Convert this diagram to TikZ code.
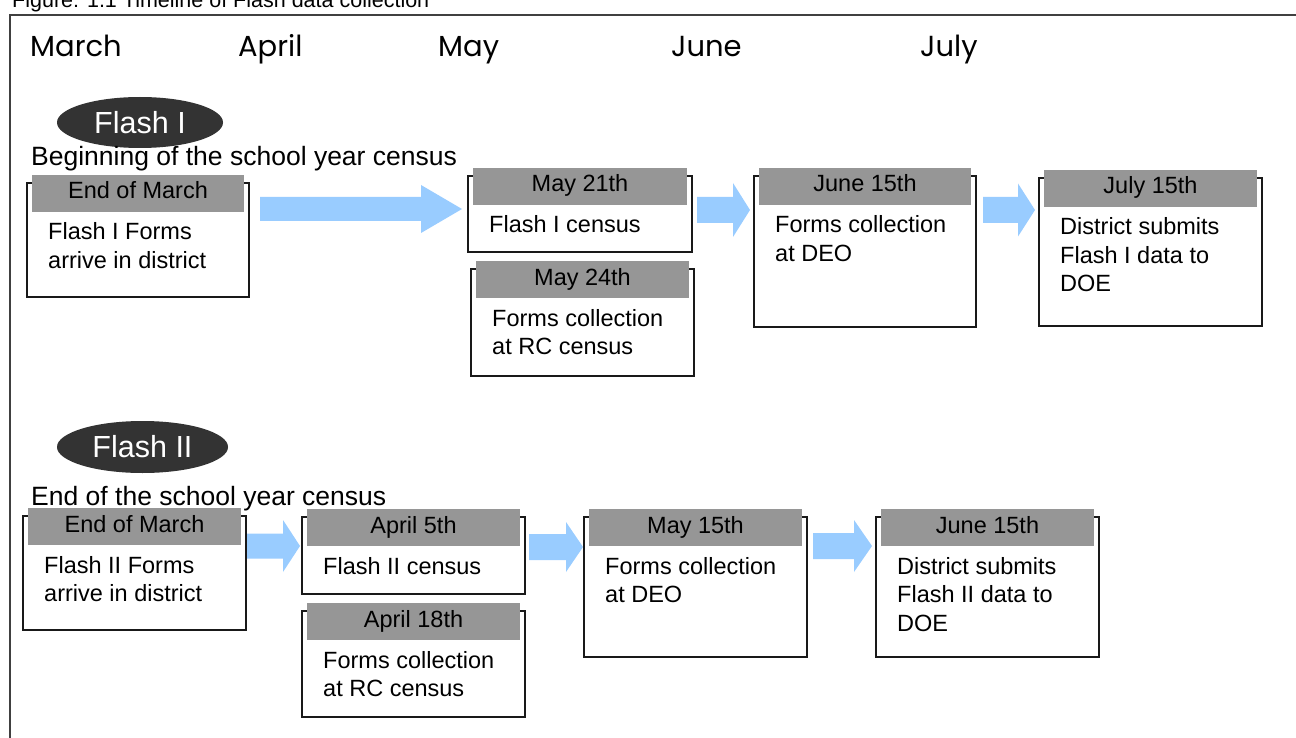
\documentclass[tikz,border=0pt]{standalone}
\usepackage{fontspec}
\setmainfont{Liberation Sans}
\newfontfamily\monthfont{Poppins}
\usetikzlibrary{shapes.geometric,calc}
\definecolor{hdrgray}{HTML}{969696}
\definecolor{ellgray}{HTML}{333333}
\definecolor{arrblue}{HTML}{99CCFF}
\definecolor{framegray}{HTML}{404040}
\tikzset{
  stagebox/.style={draw=black!90, line width=1.2pt, fill=white, inner sep=0pt, outer sep=0pt},
  stagehdr/.style={fill=hdrgray, minimum height=37pt, inner sep=0pt, outer sep=0pt},
  datetext/.style={anchor=base, inner sep=0pt, font=\fontsize{23.5}{28}\selectfont},
  bodytext/.style={anchor=base west, inner sep=0pt, font=\fontsize{23.5}{28.5}\selectfont},
  flashell/.style={ellipse, fill=ellgray, text=white, inner sep=0pt, font=\fontsize{30.5}{34}\selectfont},
  subtitle/.style={anchor=base west, inner sep=0pt, font=\fontsize{26.5}{30}\selectfont},
  monthlabel/.style={anchor=base west, inner sep=0pt, font=\monthfont\fontsize{29}{32}\selectfont},
  captiontext/.style={anchor=base west, inner sep=0pt, font=\fontsize{21.5}{24}\selectfont},
}
\newcommand\stage[7]{%
  \node[stagebox, minimum width={(#4-#2)*1pt}, minimum height={(#5-#3)*1pt}, anchor=north west] (#1) at (#2,#3) {};
  \node[stagehdr, minimum width={(#4-#2-10)*1pt}, anchor=north west] (#1-h) at (#2+5,#3-8) {};
  \node[datetext] (#1-d) at ({(#2+#4)/2},#3+16) {#6};
  \node[bodytext] (#1-t) at (#2+21,#3+57) {\parbox[t]{210pt}{\raggedright #7}};
}
% #1 start coord, #2 tip coord, #3 head length, #4 shaft half height, #5 head half height
\newcommand\blockarr[5]{%
  \fill[arrblue] ($(#1)+(0,-#4)$) -- ($(#2)+(-#3,-#4)$) -- ($(#2)+(-#3,-#5)$) -- (#2)
    -- ($(#2)+(-#3,#5)$) -- ($(#2)+(-#3,#4)$) -- ($(#1)+(0,#4)$) -- cycle;
}
\begin{document}
\begin{tikzpicture}[x=1pt,y=-1pt]
\useasboundingbox (0,0) rectangle (1296,738);
\fill[white] (0,0) rectangle (1296,738);
% caption (cut off at top, as in the reference)
\node[captiontext] (cap) at (12,7.5) {Figure: 1.1 Timeline of Flash data collection};
% frame
\draw[framegray, line width=1.6pt] (1296,15) -- (10,15) -- (10,738);
% months
\node[monthlabel] (m1) at (30,57) {March};
\node[monthlabel] (m2) at (238,57) {April};
\node[monthlabel] (m3) at (438,57) {May};
\node[monthlabel] (m4) at (671,57) {June};
\node[monthlabel] (m5) at (920,57) {July};
% Flash I
\node[flashell, minimum width=166pt, minimum height=51pt] (f1) at (140,122.5) {Flash I};
\node[subtitle] (s1) at (31,166) {Beginning of the school year census};
\stage{b1}{27}{183}{249}{297}{End of March}{Flash I Forms\\arrive in district}
\stage{b2}{468}{176}{692}{252}{May 21th}{Flash I census}
\stage{b3}{471}{269}{694}{376}{May 24th}{Forms collection\\at RC census}
\stage{b4}{754}{176}{976}{327}{June 15th}{Forms collection\\at DEO}
\stage{b5}{1039}{178}{1262}{326}{July 15th}{District submits\\Flash I data to\\DOE}
\coordinate (a1s) at (260,209); \coordinate (a1e) at (462,209);
\coordinate (a2s) at (697,210); \coordinate (a2e) at (750,210);
\coordinate (a3s) at (983,210); \coordinate (a3e) at (1035,210);
\blockarr{a1s}{a1e}{41}{12}{24}
\blockarr{a2s}{a2e}{17}{13}{27}
\blockarr{a3s}{a3e}{17}{13}{26.5}
% Flash II
\node[flashell, minimum width=171pt, minimum height=52pt] (f2) at (142.5,447) {Flash II};
\node[subtitle] (s2) at (31,505) {End of the school year census};
\stage{c1}{23}{516}{246}{630}{End of March}{Flash II Forms\\arrive in district}
\stage{c2}{302}{517}{525}{594}{April 5th}{Flash II census}
\stage{c3}{302}{611}{525}{717}{April 18th}{Forms collection\\at RC census}
\stage{c4}{584}{517}{807}{657}{May 15th}{Forms collection\\at DEO}
\stage{c5}{876}{517}{1099}{657}{June 15th}{District submits\\Flash II data to\\DOE}
\coordinate (d1s) at (247,546); \coordinate (d1e) at (300,546);
\coordinate (d2s) at (529,547); \coordinate (d2e) at (583,547);
\coordinate (d3s) at (813,546); \coordinate (d3e) at (872,546);
\blockarr{d1s}{d1e}{17}{12.5}{26}
\blockarr{d2s}{d2e}{17}{13}{25}
\blockarr{d3s}{d3e}{18}{13}{26}
\end{tikzpicture}
\end{document}
